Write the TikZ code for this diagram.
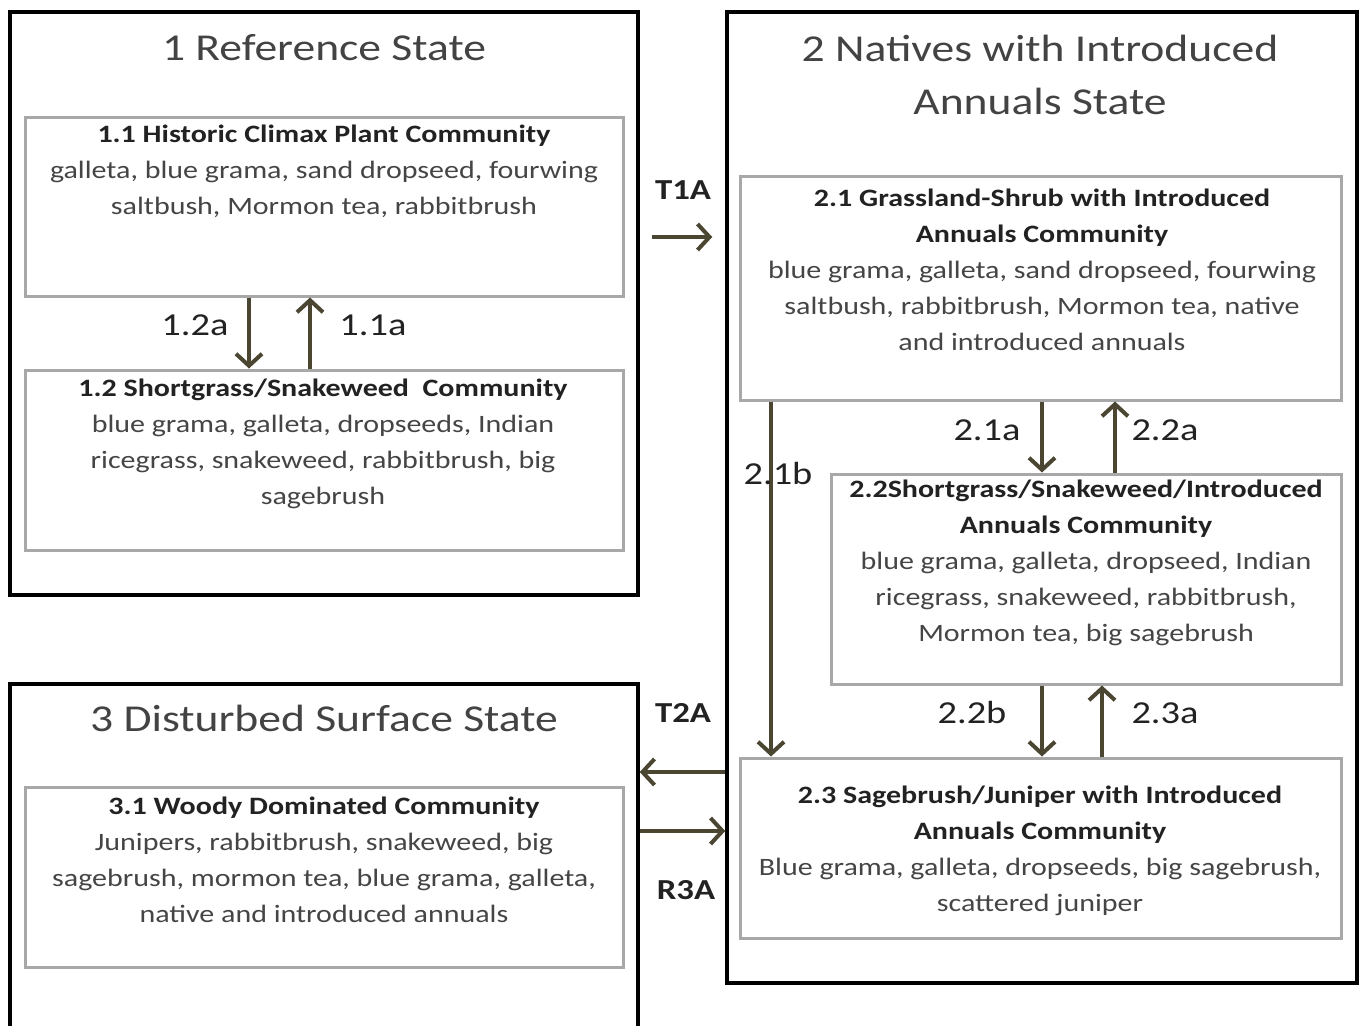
\documentclass[tikz,border=0pt]{standalone}
\usepackage{fontspec}
\setmainfont[FakeStretch=1.2]{Carlito}
\usetikzlibrary{arrows.meta,calc}
\definecolor{arr}{HTML}{4A4632}
\definecolor{ibox}{HTML}{A8A8A8}
\definecolor{txt}{HTML}{454545}
\definecolor{hd}{HTML}{222222}
\begin{document}
\begin{tikzpicture}[x=1pt,y=-1pt,
  state/.style={draw=black, line width=3.5pt, inner sep=0pt},
  comm/.style={draw=ibox, line width=3pt, inner sep=0pt},
  ttl/.style={font=\fontsize{38}{53}\selectfont, text=hd!85!white, align=center, inner sep=0pt},
  body/.style={font=\fontsize{25}{36}\selectfont, text=txt, align=center, inner sep=0pt, anchor=north},
  lbl/.style={font=\fontsize{32}{36}\selectfont, text=hd, inner sep=0pt},
  tlbl/.style={font=\bfseries\fontsize{29}{32}\selectfont, text=hd, inner sep=0pt},
  flow/.style={draw=arr, line width=4pt, -{Straight Barb[length=12pt,width=26pt]}}
]
\useasboundingbox (0,0) rectangle (1362,1025);
\fill[white] (0,0) rectangle (1362,1025);
\clip (0,0) rectangle (1362,1025);

% states
\node[state, minimum width=628pt, minimum height=583pt] (s1) at (324,303.5) {};
\node[state, minimum width=630pt, minimum height=971pt] (s2) at (1042,497.5) {};
\node[state, minimum width=628pt, minimum height=416pt] (s3) at (324,892) {};

\node[ttl] (t1) at (324,48) {1 Reference State};
\node[ttl] (t2) at (1040,75) {2 Natives with Introduced\\Annuals State};
\node[ttl] (t3) at (324,718) {3 Disturbed Surface State};

% communities
\node[comm, minimum width=598pt, minimum height=179pt] (b11) at (324,206.5) {};
\node[comm, minimum width=598pt, minimum height=180pt] (b12) at (324,460) {};
\node[comm, minimum width=601pt, minimum height=224pt] (b21) at (1040.5,288) {};
\node[comm, minimum width=510pt, minimum height=210pt] (b22) at (1086,579) {};
\node[comm, minimum width=601pt, minimum height=180pt] (b23) at (1040.5,848) {};
\node[comm, minimum width=598pt, minimum height=180pt] (b31) at (324,877) {};

\node[body] (x11) at (324,125) {\textbf{\color{hd}1.1 Historic Climax Plant Community}\\galleta, blue grama, sand dropseed, fourwing\\saltbush, Mormon tea, rabbitbrush};
\node[body] (x12) at (323,379) {\textbf{\color{hd}1.2 Shortgrass/Snakeweed\ \ Community}\\blue grama, galleta, dropseeds, Indian\\ricegrass, snakeweed, rabbitbrush, big\\sagebrush};
\node[body] (x21) at (1042,189) {\textbf{\color{hd}2.1 Grassland-Shrub with Introduced}\\\textbf{\color{hd}Annuals Community}\\blue grama, galleta, sand dropseed, fourwing\\saltbush, rabbitbrush, Mormon tea, native\\and introduced annuals};
\node[body] (x22) at (1086,480) {\textbf{\color{hd}2.2Shortgrass/Snakeweed/Introduced}\\\textbf{\color{hd}Annuals Community}\\blue grama, galleta, dropseed, Indian\\ricegrass, snakeweed, rabbitbrush,\\Mormon tea, big sagebrush};
\node[body] (x23) at (1040,786) {\textbf{\color{hd}2.3 Sagebrush/Juniper with Introduced}\\\textbf{\color{hd}Annuals Community}\\Blue grama, galleta, dropseeds, big sagebrush,\\scattered juniper};
\node[body] (x31) at (324,797) {\textbf{\color{hd}3.1 Woody Dominated Community}\\Junipers, rabbitbrush, snakeweed, big\\sagebrush, mormon tea, blue grama, galleta,\\native and introduced annuals};

% arrow positions
\coordinate (c12a) at (249,0);
\coordinate (c11a) at (310,0);
\coordinate (c21a) at (1042,0);
\coordinate (c22a) at (1115,0);
\coordinate (c21b) at (771,0);
\coordinate (c22b) at (1042,0);
\coordinate (c23a) at (1102,0);
\coordinate (yT1) at (0,237);
\coordinate (yT2) at (0,772);
\coordinate (yR3) at (0,831);

\draw[flow] (b11.south -| c12a) -- (b12.north -| c12a);
\draw[flow] (b12.north -| c11a) -- (b11.south -| c11a);
\draw[flow] (b21.south -| c21a) -- (b22.north -| c21a);
\draw[flow] (b22.north -| c22a) -- (b21.south -| c22a);
\draw[flow] (b21.south -| c21b) -- (b23.north -| c21b);
\draw[flow] (b22.south -| c22b) -- (b23.north -| c22b);
\draw[flow] (b23.north -| c23a) -- (b22.south -| c23a);
\draw[flow, shorten <=12pt, shorten >=13pt] (s1.east |- yT1) -- (s2.west |- yT1);
\draw[flow] (s2.west |- yT2) -- (s3.east |- yT2);
\draw[flow] (s3.east |- yR3) -- (s2.west |- yR3);

% labels
\node[lbl] (l12a) at (195,325) {1.2a};
\node[lbl] (l11a) at (373,325) {1.1a};
\node[lbl] (l21a) at (987,430) {2.1a};
\node[lbl] (l22a) at (1165,430) {2.2a};
\node[lbl] (l21b) at (778,474) {2.1b};
\node[lbl] (l22b) at (972,713) {2.2b};
\node[lbl] (l23a) at (1165,713) {2.3a};
\node[tlbl] (lT1) at (683,190) {T1A};
\node[tlbl] (lT2) at (683,713) {T2A};
\node[tlbl] (lR3) at (686,890) {R3A};
\end{tikzpicture}
\end{document}
